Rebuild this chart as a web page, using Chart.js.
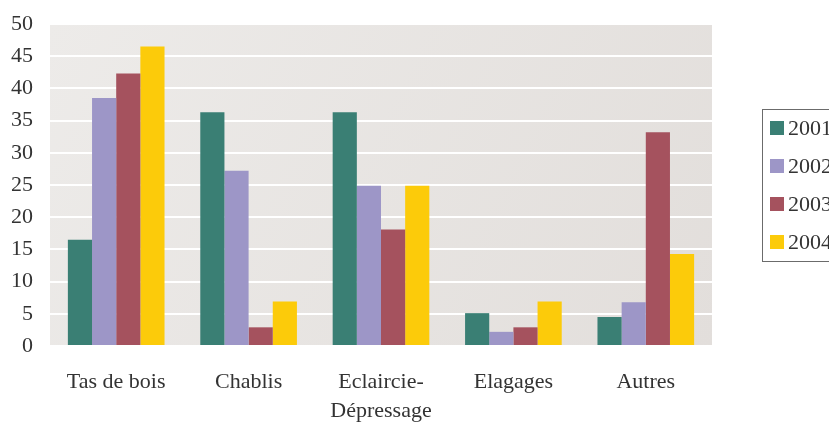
<!DOCTYPE html>
<html>
<head>
<meta charset="utf-8">
<script src="https://cdn.jsdelivr.net/npm/chart.js@4"></script>
<style>
    html, body { margin: 0; padding: 0; background: #ffffff; overflow: hidden; }
    #wrap { position: relative; width: 829px; height: 425px; }
</style>
</head>
<body>
<div id="wrap"><canvas id="woodChart" width="829" height="425"></canvas></div>
<script>
// ===== DATA =====
const categories = ['Tas de bois', 'Chablis', ['Eclaircie-', 'Dépressage'], 'Elagages', 'Autres'];
const years = ['2001', '2002', '2003', '2004'];
const values2001 = [16.5, 36.3, 36.3, 5.1, 4.5];
const values2002 = [38.5, 27.2, 24.9, 2.2, 6.8];
const values2003 = [42.3, 2.9, 18.1, 2.9, 33.2];
const values2004 = [46.5, 6.9, 24.9, 6.9, 14.3];
const yStep = 5;
const yMax = 50;

const colors = ['#3a7f74', '#9d96c7', '#a5525e', '#fccb0a'];
const serif = '"Liberation Serif", "DejaVu Serif", serif';

// ===== PLOT BACKGROUND =====
const plotBackground = {
    id: 'plotBackground',
    beforeDraw(chart) {
        const { ctx, chartArea: a } = chart;
        const g = ctx.createLinearGradient(a.left, a.top, a.right, a.bottom);
        g.addColorStop(0, '#edebe9');
        g.addColorStop(1, '#e2dedb');
        ctx.save();
        ctx.fillStyle = g;
        ctx.fillRect(a.left, a.top, a.right - a.left, a.bottom - a.top);
        ctx.restore();
    }
};

// ===== BOXED LEGEND (cut by the right edge, like the original) =====
const boxLegend = {
    id: 'boxLegend',
    afterDraw(chart) {
        const { ctx } = chart;
        const x = 762, y = 109, w = 90, h = 152;
        ctx.save();
        ctx.fillStyle = '#ffffff';
        ctx.fillRect(x, y, w, h);
        ctx.strokeStyle = '#6b6b6b';
        ctx.lineWidth = 1;
        ctx.strokeRect(x + 0.5, y + 0.5, w, h);
        ctx.font = '22px ' + serif;
        ctx.textBaseline = 'middle';
        chart.data.datasets.forEach((ds, i) => {
            const sy = 121 + i * 38;
            ctx.fillStyle = ds.backgroundColor;
            ctx.fillRect(770, sy, 14, 14);
            ctx.fillStyle = '#333333';
            ctx.fillText(ds.label, 788, sy + 8);
        });
        ctx.restore();
    }
};

const datasets = [values2001, values2002, values2003, values2004].map((vals, i) => ({
    label: years[i],
    data: vals,
    backgroundColor: colors[i],
    borderWidth: 0,
    barPercentage: 1.0,
    categoryPercentage: 0.73
}));

new Chart(document.getElementById('woodChart'), {
    type: 'bar',
    data: { labels: categories, datasets: datasets },
    options: {
        responsive: false,
        animation: false,
        layout: { padding: { top: 24, right: 117, left: 10, bottom: 0 } },
        plugins: {
            legend: { display: false },
            tooltip: { enabled: false }
        },
        scales: {
            x: {
                afterFit: axis => { axis.height = 79; },
                grid: { display: false, drawTicks: false },
                border: { display: false },
                ticks: {
                    color: '#333333',
                    padding: 22,
                    maxRotation: 0,
                    font: { family: serif, size: 22, lineHeight: 1.32 }
                }
            },
            y: {
                min: 0,
                max: yMax,
                afterFit: axis => { axis.width = 40; },
                grid: { color: '#ffffff', lineWidth: 2, drawTicks: false },
                border: { display: false },
                ticks: {
                    stepSize: yStep,
                    autoSkip: false,
                    color: '#333333',
                    padding: 17,
                    font: { family: serif, size: 22, lineHeight: 0.6 }
                }
            }
        }
    },
    plugins: [plotBackground, boxLegend]
});
</script>
</body>
</html>
